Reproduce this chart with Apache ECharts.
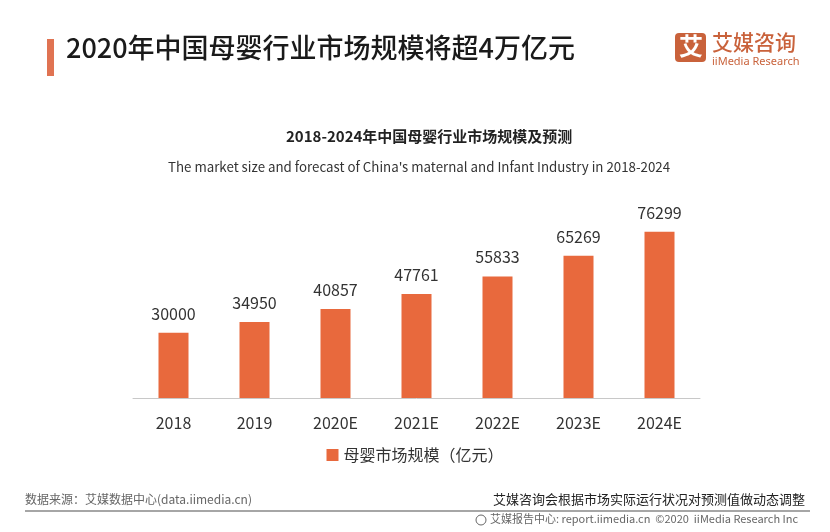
<!DOCTYPE html>
<html><head><meta charset="utf-8">
<script src="https://cdn.jsdelivr.net/npm/echarts@6/dist/echarts.min.js"></script>
<style>html,body{margin:0;padding:0;background:#fff}#c{width:830px;height:532px}</style>
</head><body><div id="c"></div>
<script>
const categories = ['2018','2019','2020E','2021E','2022E','2023E','2024E'];
const marketSize = [30000,34950,40857,47761,55833,65269,76299];
const seriesName = '母婴市场规模（亿元）';
const cjk = '"Noto Sans CJK SC", "Noto Sans", sans-serif';
const chart = echarts.init(document.getElementById('c'));
chart.setOption({
  backgroundColor:'#fff',
  animation:false,
  title:[
    {text:'2018-2024年中国母婴行业市场规模及预测',left:281,top:124,textStyle:{fontFamily:cjk,fontSize:15,fontWeight:'bold',color:'#222'}},
    {text:"The market size and forecast of China's maternal and Infant Industry in 2018-2024",left:163,top:155,textStyle:{fontFamily:cjk,fontSize:13.3,fontWeight:'normal',color:'#333'}}
  ],
  grid:{left:133,right:130,top:202,bottom:134},
  xAxis:{type:'category',data:categories,axisLine:{lineStyle:{color:'#c8c8c8',width:1}},axisTick:{show:false},
    axisLabel:{margin:17,fontSize:16,color:'#333',fontFamily:cjk}},
  yAxis:{type:'value',min:0,max:90000,show:false,splitLine:{show:false}},
  legend:{bottom:64,left:'center',itemWidth:12,itemHeight:12,icon:'rect',itemGap:10,
    textStyle:{fontSize:16,color:'#333',fontFamily:cjk},data:[seriesName]},
  series:[{name:seriesName,type:'bar',data:marketSize,barWidth:30,itemStyle:{color:'#E8693D'},
    label:{show:true,position:'top',distance:11,fontSize:16,color:'#333',fontFamily:cjk}}],
  graphic:[
    {type:'rect',left:47,top:39,shape:{width:7,height:37},style:{fill:'#E07352'}},
    {type:'text',left:66,top:34,style:{text:'2020年中国母婴行业市场规模将超4万亿元',font:'500 27px "Noto Sans CJK SC"',fill:'#1a1a1a'}},
    {type:'rect',left:675,top:33,shape:{width:31,height:29,r:4},style:{fill:'#C9623B'}},
    {type:'text',left:679,top:34,style:{text:'艾',font:'bold 24px "Noto Sans CJK SC"',fill:'#fff'}},
    {type:'text',left:712,top:32,style:{text:'艾媒咨询',font:'500 21px "Noto Sans CJK SC"',fill:'#C9623B'}},
    {type:'text',left:712,top:56,style:{text:'iiMedia Research',font:'11px "Noto Sans"',fill:'#C9623B'}},
    {type:'text',left:25,top:493,style:{text:'数据来源：艾媒数据中心(data.iimedia.cn)',font:'12px "Noto Sans CJK SC"',fill:'#666'}},
    {type:'text',right:25,top:493,style:{text:'艾媒咨询会根据市场实际运行状况对预测值做动态调整',font:'13px "Noto Sans CJK SC"',fill:'#222'}},
    {type:'line',shape:{x1:25,y1:511,x2:810,y2:511},style:{stroke:'#888',lineWidth:1.5}},
    {type:'circle',shape:{cx:481,cy:520,r:5},style:{fill:'none',stroke:'#666',lineWidth:1}},
    {type:'text',left:490,top:513,style:{text:'艾媒报告中心: report.iimedia.cn  ©2020  iiMedia Research Inc',font:'11px "Noto Sans CJK SC"',fill:'#666'}}
  ]
});
</script></body></html>
